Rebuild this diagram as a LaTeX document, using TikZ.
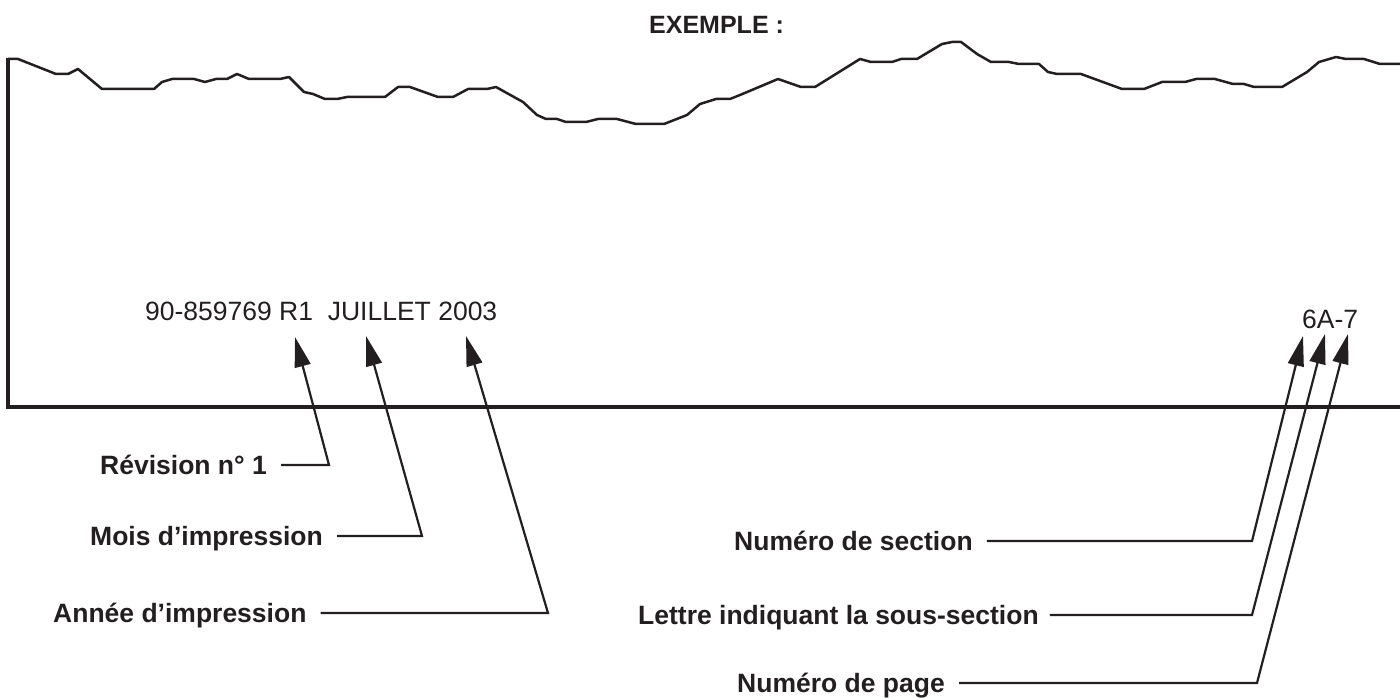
\documentclass[tikz,border=0pt]{standalone}
\usepackage{fontspec}
\setmainfont{Liberation Sans}
\usetikzlibrary{arrows.meta}
\definecolor{ink}{RGB}{35,31,32}
\begin{document}
\begin{tikzpicture}[x=1pt,y=-1pt,
  lab/.style={font=\fontsize{26.5}{30}\selectfont\bfseries, anchor=west, inner sep=0pt, text height=19pt, text depth=0pt, text=ink},
  reg/.style={font=\fontsize{26.5}{30}\selectfont, anchor=west, inner sep=0pt, text height=19pt, text depth=0pt, text=ink},
  leader/.style={draw=ink, line width=2.2pt, -{Triangle[length=30pt,width=16pt]}, line join=miter},
  tornedge/.style={draw=ink, line width=2.5pt, line join=round},
]
\useasboundingbox (0,0) rectangle (1400,698);

% page frame
\draw[ink, line width=3.5pt] (8,58) -- (8,409);
\draw[ink, line width=4.5pt] (6,407) -- (1400,407);
\draw[tornedge] (8,59) -- (18,59) -- (56,74) -- (68,74) -- (78,69) -- (102,89) -- (154,89) -- (162,82) -- (172,79) -- (194,79) -- (205,82) -- (216,79) -- (227,79) -- (237,74) -- (249,79) -- (280,79) -- (289,77) -- (304,92) -- (313,94) -- (325,99) -- (337,99) -- (347,97) -- (385,97) -- (398,87) -- (410,87) -- (438,97) -- (453,97) -- (468,89) -- (487,89) -- (496,87) -- (523,102) -- (537,115) -- (546,119) -- (557,119) -- (566,122) -- (586,122) -- (598,119) -- (617,119) -- (636,124) -- (664,124) -- (687,115) -- (700,104) -- (716,99) -- (730,99) -- (740,95) -- (778,79) -- (801,87) -- (815,87) -- (860,59) -- (871,62) -- (892,62) -- (901,59) -- (917,59) -- (942,44) -- (952,42) -- (961,42) -- (977,54) -- (991,62) -- (1009,62) -- (1019,64) -- (1039,64) -- (1048,72) -- (1057,74) -- (1081,74) -- (1122,89) -- (1144,89) -- (1162,82) -- (1185,82) -- (1196,79) -- (1215,79) -- (1233,84) -- (1244,84) -- (1254,87) -- (1282,87) -- (1307,72) -- (1319,62) -- (1336,57) -- (1346,59) -- (1364,59) -- (1380,64) -- (1400,64);

% texts
\node[font=\fontsize{25}{30}\selectfont\bfseries, inner sep=0pt, text height=18pt, text depth=0pt, text=ink, anchor=west] (ex) at (649,25) {EXEMPLE :};
\node[reg] (num) at (145,311) {90-859769 R1\ \ JUILLET 2003};
\node[reg] (sec) at (1302,319) {6A-7};

\node[lab] (rev) at (100,465) {Révision n° 1};
\node[lab] (mois) at (90,536) {Mois d’impression};
\node[lab] (annee) at (53,613) {Année d’impression};
\node[lab] (nsec) at (734,541) {Numéro de section};
\node[lab] (lettre) at (638,615) {Lettre indiquant la sous-section};
\node[lab] (npage) at (737,683) {Numéro de page};

% arrow tips and corners
\coordinate (revt) at (295,337);
\coordinate (moist) at (366,336);
\coordinate (anneet) at (466,336);
\coordinate (nsect) at (1303,336);
\coordinate (lettret) at (1325,334);
\coordinate (npaget) at (1348,334);

\coordinate (revc) at (329,465);
\coordinate (moisc) at (422,536);
\coordinate (anneec) at (548,613);
\coordinate (nsecc) at (1252,541);
\coordinate (lettrec) at (1252,615);
\coordinate (npagec) at (1257,683);

\draw[leader] ([xshift=14pt]rev.east) -- (revc) -- (revt);
\draw[leader] ([xshift=14pt]mois.east) -- (moisc) -- (moist);
\draw[leader] ([xshift=14pt]annee.east) -- (anneec) -- (anneet);
\draw[leader] ([xshift=14pt]nsec.east) -- (nsecc) -- (nsect);
\draw[leader] ([xshift=11pt]lettre.east) -- (lettrec) -- (lettret);
\draw[leader] ([xshift=14pt]npage.east) -- (npagec) -- (npaget);
\end{tikzpicture}
\end{document}
